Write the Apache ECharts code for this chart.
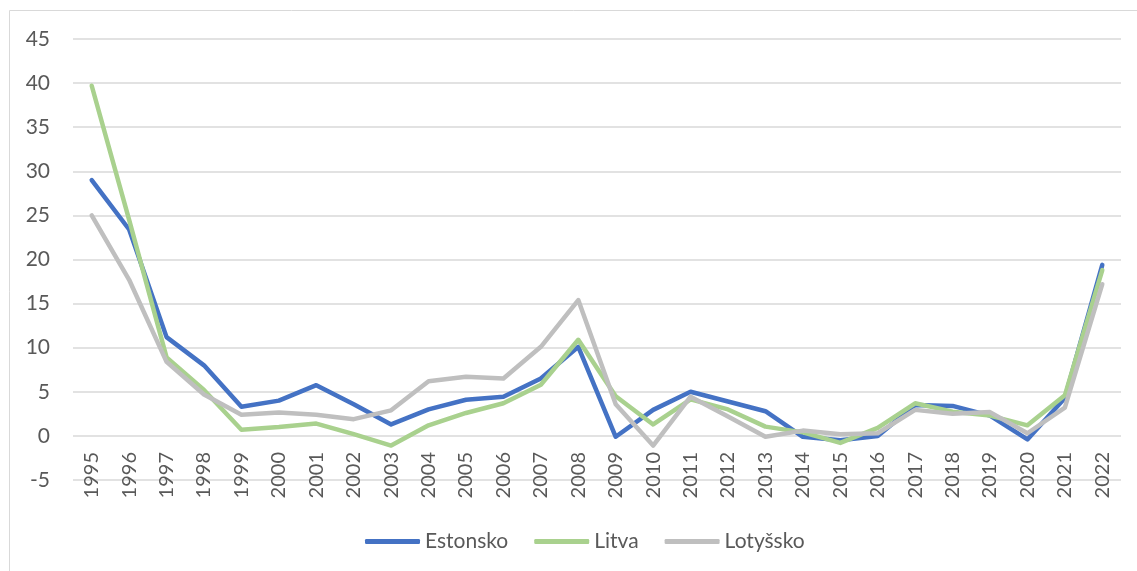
<!DOCTYPE html>
<html>
<head>
<meta charset="utf-8">
<script src="https://cdn.jsdelivr.net/npm/echarts@6/dist/echarts.min.js"></script>
<style>
html,body{margin:0;padding:0;background:#fff;}
#chart{width:1137px;height:571px;}
</style>
</head>
<body>
<div id="chart"></div>
<script>
const years = ['1995','1996','1997','1998','1999','2000','2001','2002','2003','2004','2005','2006','2007','2008','2009','2010','2011','2012','2013','2014','2015','2016','2017','2018','2019','2020','2021','2022'];
const estonsko = [29.0, 23.4, 11.2, 8.0, 3.3, 4.0, 5.75, 3.6, 1.3, 3.0, 4.1, 4.45, 6.5, 10.1, -0.1, 2.95, 5.0, 3.9, 2.8, -0.1, -0.5, 0.0, 3.5, 3.4, 2.3, -0.4, 4.3, 19.4];
const litva = [39.7, 24.5, 8.9, 5.2, 0.7, 1.0, 1.4, 0.2, -1.1, 1.2, 2.6, 3.7, 5.8, 10.9, 4.5, 1.3, 4.15, 3.0, 1.05, 0.4, -0.8, 0.9, 3.7, 2.75, 2.3, 1.2, 4.6, 18.8];
const lotyssko = [25.0, 17.7, 8.4, 4.7, 2.4, 2.65, 2.4, 1.9, 2.9, 6.2, 6.7, 6.5, 10.1, 15.4, 3.6, -1.1, 4.45, 2.2, -0.1, 0.6, 0.2, 0.3, 2.95, 2.5, 2.7, 0.3, 3.2, 17.2];
const seriesNames = ['Estonsko', 'Litva', 'Lotyšsko'];
const colors = ['#4472C4', '#A9D18E', '#BFBFBF'];

const chart = echarts.init(document.getElementById('chart'), null, {renderer: 'canvas'});
const font = 'Lato, "Open Sans", sans-serif';
const mk = (name, data, color) => ({
  name, type: 'line', data, symbol: 'none',
  lineStyle: {width: 4.5, color, cap: 'round', join: 'round'},
  itemStyle: {color},
  animation: false
});
chart.setOption({
  animation: false,
  graphic: [{
    type: 'rect', shape: {x: 9.5, y: 10.5, width: 1140, height: 600},
    style: {fill: 'none', stroke: '#d9d9d9', lineWidth: 1}, silent: true, z: -1
  }],
  grid: {left: 73, right: 16, top: 39, bottom: 91},
  legend: {
    data: seriesNames, left: 360, top: 526, icon: 'roundRect',
    itemWidth: 55, itemHeight: 5, itemGap: 26,
    textStyle: {fontFamily: font, fontSize: 21, color: '#595959'}
  },
  xAxis: {
    type: 'category', data: years, boundaryGap: true,
    axisLine: {show: false, onZero: false},
    axisTick: {show: false},
    axisLabel: {rotate: 90, margin: -28, interval: 0, fontFamily: font, fontSize: 20, color: '#595959'},
    splitLine: {show: false}
  },
  yAxis: {
    type: 'value', min: -5, max: 45, interval: 5,
    axisLine: {show: false}, axisTick: {show: false},
    axisLabel: {margin: 23, fontFamily: font, fontSize: 21, color: '#595959'},
    splitLine: {lineStyle: {color: '#d9d9d9', width: 1.5}}
  },
  series: [mk(seriesNames[0], estonsko, colors[0]), mk(seriesNames[1], litva, colors[1]), mk(seriesNames[2], lotyssko, colors[2])]
});
</script>
</body>
</html>
